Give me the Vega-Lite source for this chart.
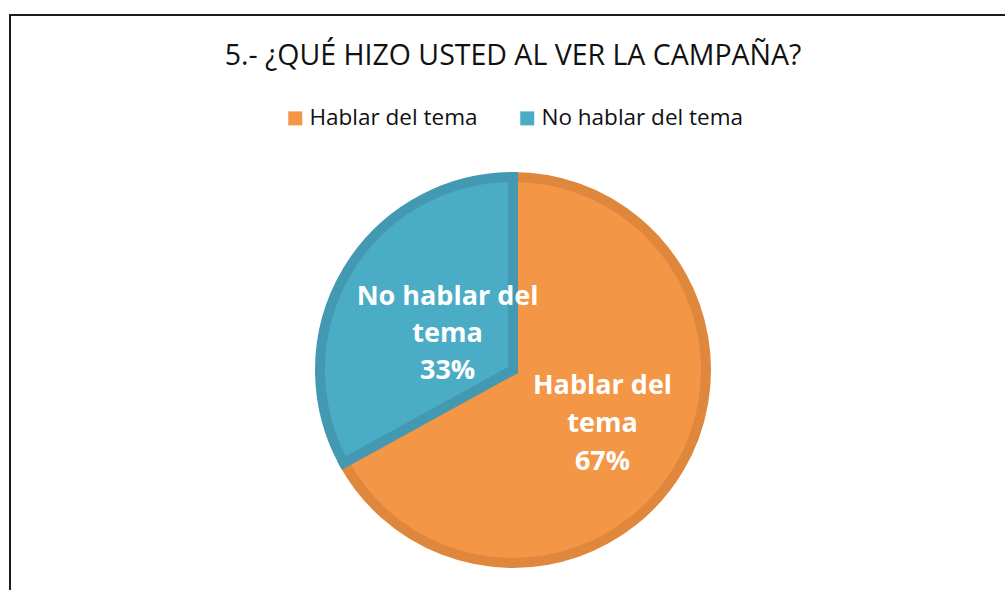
{
  "$schema": "https://vega.github.io/schema/vega-lite/v6.json",
  "width": 1006,
  "height": 710,
  "autosize": {"type": "none"},
  "padding": {"left": 10, "top": 15, "right": 0, "bottom": 0},
  "background": "white",
  "view": {"stroke": "#1c1c1c", "strokeWidth": 2},
  "config": {
    "view": {"stroke": "#1c1c1c", "strokeWidth": 2},
    "font": "Open Sans"
  },
  "title": {
    "text": "5.- ¿QUÉ HIZO USTED AL VER LA CAMPAÑA?",
    "font": "Open Sans",
    "fontSize": 28.5,
    "fontWeight": "normal",
    "color": "#111111",
    "anchor": "middle",
    "baseline": "alphabetic",
    "offset": -78
  },
  "data": {
    "values": [
      {"category": "Hablar del tema", "percent": 67},
      {"category": "No hablar del tema", "percent": 33}
    ]
  },
  "transform": [
    {"calculate": "replace(datum.category, ' tema', '\\ntema') + '\\n' + datum.percent + '%'", "as": "label"},
    {"calculate": "datum.category === 'Hablar del tema' ? datum.label : ''", "as": "labelA"},
    {"calculate": "datum.category === 'No hablar del tema' ? datum.label : ''", "as": "labelB"}
  ],
  "layer": [
    {
      "mark": {"type": "arc", "radius": 193, "strokeWidth": 10},
      "encoding": {
        "theta": {"field": "percent", "type": "quantitative", "stack": true},
        "order": {"field": "category", "type": "nominal", "sort": "ascending"},
        "color": {
          "field": "category",
          "type": "nominal",
          "scale": {"domain": ["Hablar del tema", "No hablar del tema"], "range": ["#F39646", "#4BACC6"]},
          "legend": {
            "orient": "none",
            "direction": "horizontal",
            "legendX": 274,
            "legendY": 92,
            "title": null,
            "symbolType": "square",
            "symbolSize": 196,
            "symbolStrokeWidth": 0,
            "labelFont": "Open Sans",
            "labelFontSize": 22.5,
            "labelColor": "#111111",
            "labelOffset": 3,
            "columnPadding": 38,
            "labelLimit": 400
          }
        },
        "stroke": {
          "field": "category",
          "type": "nominal",
          "scale": {"domain": ["Hablar del tema", "No hablar del tema"], "range": ["#E0873E", "#4499B2"]},
          "legend": null
        }
      }
    },
    {
      "mark": {"type": "text", "radius": 104, "dy": -37, "font": "Open Sans", "fontSize": 27, "fontWeight": "bold", "color": "white", "lineBreak": "\n", "lineHeight": 38, "align": "center", "baseline": "middle"},
      "encoding": {
        "theta": {"field": "percent", "type": "quantitative", "stack": true},
        "order": {"field": "category", "type": "nominal", "sort": "ascending"},
        "detail": {"field": "category", "type": "nominal"},
        "text": {"field": "labelA"}
      }
    },
    {
      "mark": {"type": "text", "radius": 76, "dy": -34, "font": "Open Sans", "fontSize": 27, "fontWeight": "bold", "color": "white", "lineBreak": "\n", "lineHeight": 37, "align": "center", "baseline": "middle"},
      "encoding": {
        "theta": {"field": "percent", "type": "quantitative", "stack": true},
        "order": {"field": "category", "type": "nominal", "sort": "ascending"},
        "detail": {"field": "category", "type": "nominal"},
        "text": {"field": "labelB"}
      }
    }
  ]
}
